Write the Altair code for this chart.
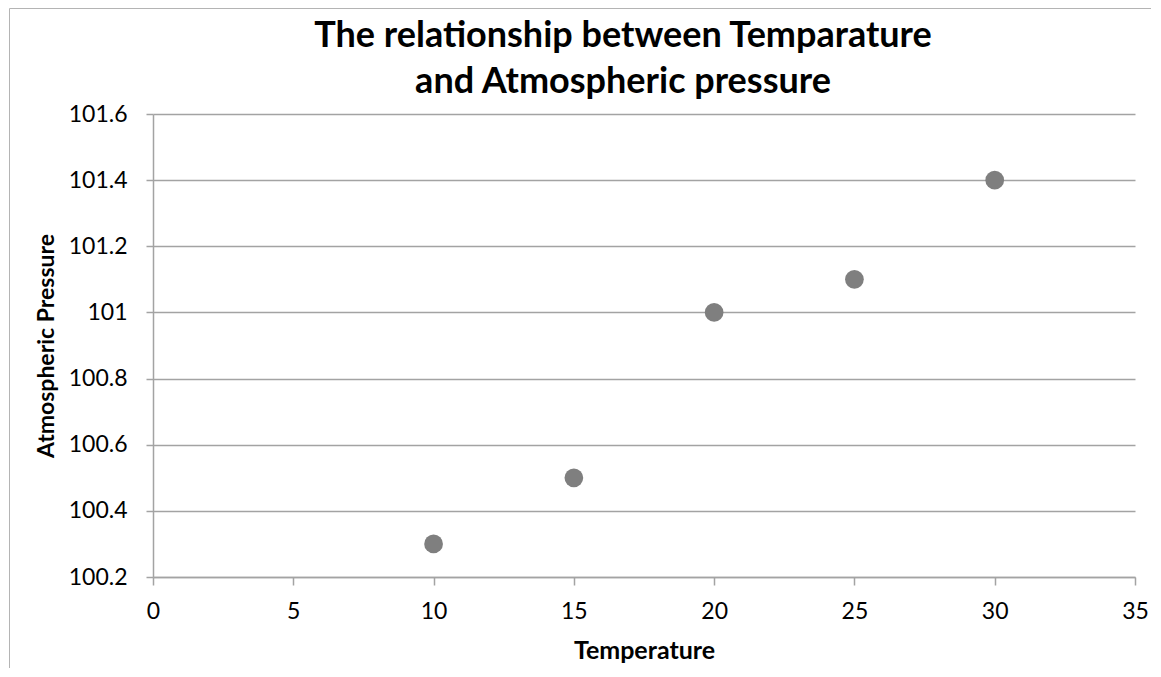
import altair as alt
import pandas as pd

# Data
temperature = [10, 15, 20, 25, 30]
pressure = [100.3, 100.5, 101.0, 101.1, 101.4]
x_ticks = [0, 5, 10, 15, 20, 25, 30, 35]
y_ticks = [100.2, 100.4, 100.6, 100.8, 101.0, 101.2, 101.4, 101.6]

title_lines = ["The relationship between Temparature", "and Atmospheric pressure"]
x_title = "Temperature"
y_title = "Atmospheric Pressure"

FONT = "Lato"
GRID = "#a3a3a3"

df = pd.DataFrame({"Temperature": temperature, "Pressure": pressure})

points = alt.Chart(df).mark_circle(size=350, color="#7f7f7f", opacity=1).encode(
    x=alt.X(
        "Temperature:Q",
        scale=alt.Scale(domain=[x_ticks[0], x_ticks[-1]], nice=False, zero=False),
        axis=alt.Axis(
            values=x_ticks,
            title=x_title,
            grid=False,
            tickSize=8,
            labelPadding=15,
            labelFlush=False,
            titleFontSize=25,
            titleX=491,
            titleY=81,
            titleBaseline="alphabetic",
        ),
    ),
    y=alt.Y(
        "Pressure:Q",
        scale=alt.Scale(domain=[y_ticks[0], y_ticks[-1]], nice=False, zero=False),
        axis=alt.Axis(
            values=y_ticks,
            format=".4~r",
            title=y_title,
            grid=True,
            tickSize=7,
            labelPadding=19,
            labelFlush=False,
            titleFontSize=23,
            titleX=-100,
            titleY=231.5,
            titleBaseline="alphabetic",
        ),
    ),
)

frame_df = pd.DataFrame({"k": [0]})
left_border = alt.Chart(frame_df).mark_rule(color="#b4b4b4", strokeWidth=1).encode(
    x=alt.value(-143.5), y=alt.value(-105.5), y2=alt.value(700)
)
top_border = alt.Chart(frame_df).mark_rule(color="#b4b4b4", strokeWidth=1).encode(
    x=alt.value(-143.5), x2=alt.value(1100), y=alt.value(-105.5)
)

chart = (
    alt.layer(left_border, top_border, points)
    .properties(
        width=982,
        height=463,
        autosize="none",
        padding={"left": 145, "top": 106, "right": 16, "bottom": 91},
        title=alt.TitleParams(
            title_lines,
            font=FONT,
            fontSize=36,
            fontWeight="bold",
            color="black",
            lineHeight=46,
            anchor="middle",
            dx=-21,
            offset=-129,
            baseline="bottom",
        ),
    )
    .configure_view(stroke=None)
    .configure_axis(
        labelFont=FONT,
        labelFontSize=23,
        labelColor="black",
        titleFont=FONT,
        titleFontWeight="bold",
        titleColor="black",
        domainColor=GRID,
        domainWidth=1.5,
        tickColor=GRID,
        tickWidth=1.5,
        gridColor=GRID,
        gridWidth=1.5,
    )
)

chart.save("out.html", embed_options={"renderer": "svg", "actions": False})
